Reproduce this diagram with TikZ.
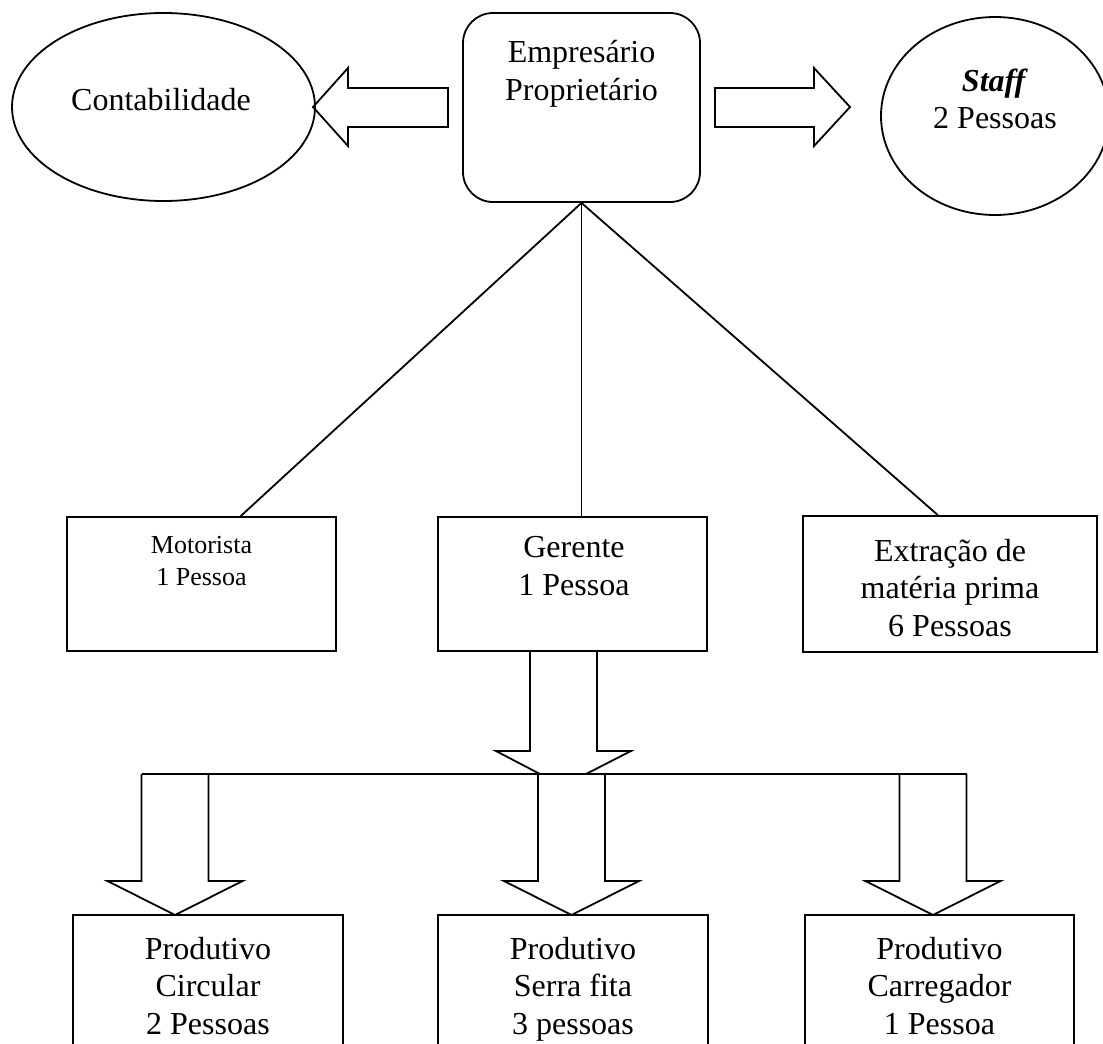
\documentclass[tikz,border=0pt]{standalone}
\usepackage{fontspec}
\setmainfont{Liberation Serif}
\usetikzlibrary{positioning, shapes.geometric}

\tikzset{
  box/.style={draw, line width=1.8pt, inner sep=0pt},
  roundbox/.style={box, rounded corners=30pt},
  oval/.style={box, ellipse},
  txt/.style={align=center, inner sep=0pt, font=\fontsize{32}{37.5}\selectfont},
  smalltxt/.style={align=center, inner sep=0pt, font=\fontsize{26}{32}\selectfont},
  link/.style={line width=1.8pt},
  blockarrow/.style={line width=1.8pt, line join=miter},
}

\begin{document}
\begin{tikzpicture}[x=1pt, y=-1pt]
  \useasboundingbox (0,0) rectangle (1103,1044);

  % Top row
  \node[oval, minimum width=303pt, minimum height=188pt] (contab) at (163.5,107) {};
  \node[roundbox, minimum width=237pt, minimum height=189pt] (owner) at (581.5,107.5) {};
  \node[oval, minimum width=228pt, minimum height=198pt] (staff) at (995,116) {};
  \node[txt] (contabtxt) at (161,100) {Contabilidade};
  \node[txt] (ownertxt) at (581.5,74) {Empresário\\Proprietário};
  \node[txt] (stafftxt) at (995,99) {\textbf{\textit{Staff}}\\2 Pessoas};

  % Block arrows to the sides
  \draw[blockarrow] (448,88) -- (348,88) -- (348,68) -- (313,107) -- (348,146) -- (348,127) -- (448,127) -- cycle;
  \draw[blockarrow] (715,88) -- (814,88) -- (814,68) -- (850,107) -- (814,146) -- (814,127) -- (715,127) -- cycle;

  % Middle row
  \node[box, minimum width=269pt, minimum height=134pt] (motorista) at (201.5,584) {};
  \node[box, minimum width=269pt, minimum height=134pt] (gerente) at (572.5,584) {};
  \node[box, minimum width=294pt, minimum height=136pt] (extracao) at (950,584) {};
  \node[smalltxt] (motoristatxt) at (201.5,561) {Motorista\\1 Pessoa};
  \node[txt] (gerentetxt) at (574,566) {Gerente\\1 Pessoa};
  \node[txt] (extracaotxt) at (950,588) {Extração de\\matéria prima\\6 Pessoas};

  % Lines from the owner
  \draw[link] (owner.south) -- (motorista.60);
  \draw[link] (owner.south) -- (owner.south |- gerente.north);
  \draw[link] (owner.south) -- (extracao.100);

  % Arrow down from the manager
  \draw[blockarrow] (530,651) -- (530,751) -- (496,751) -- (540,774) -- (586,774) -- (631,751) -- (597,751) -- (597,651);

  % Distribution bar and arrows
  \draw[link] (141.5,774) -- (966.5,774);
  \draw[blockarrow] (141.5,774) -- (141.5,881) -- (107.5,881) -- (175,915) -- (242.5,881) -- (208.5,881) -- (208.5,774);
  \draw[blockarrow] (538,774) -- (538,881) -- (504,881) -- (571.5,915) -- (639,881) -- (605,881) -- (605,774);
  \draw[blockarrow] (899.5,774) -- (899.5,881) -- (865.5,881) -- (933,915) -- (1000.5,881) -- (966.5,881) -- (966.5,774);

  % Bottom row
  \node[box, minimum width=270pt, minimum height=160pt] (circular) at (208,995) {};
  \node[box, minimum width=270pt, minimum height=160pt] (serra) at (573,995) {};
  \node[box, minimum width=269pt, minimum height=160pt] (carreg) at (939.5,995) {};
  \node[txt, anchor=base] (circulartxt) at (208,1034) {Produtivo\\Circular\\2 Pessoas};
  \node[txt, anchor=base] (serratxt) at (573,1034) {Produtivo\\Serra fita\\3 pessoas};
  \node[txt, anchor=base] (carregtxt) at (939.5,1034) {Produtivo\\Carregador\\1 Pessoa};
\end{tikzpicture}
\end{document}
